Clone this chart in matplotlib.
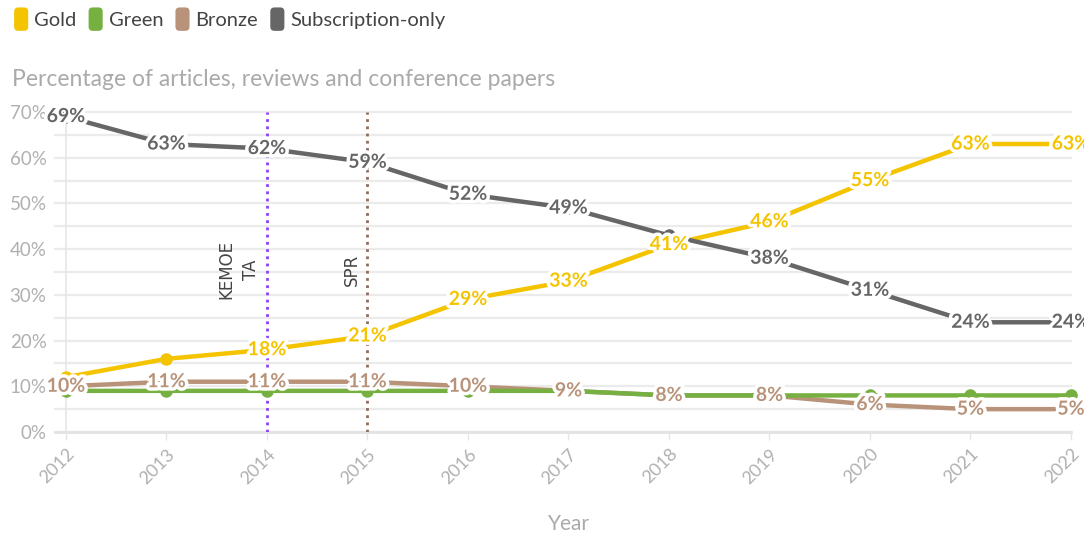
import matplotlib
matplotlib.use('Agg')
import matplotlib.pyplot as plt
import matplotlib.patheffects as pe
from matplotlib.patches import Patch, FancyBboxPatch
from matplotlib.legend_handler import HandlerPatch

plt.rcParams['font.family'] = ['Lato', 'DejaVu Sans']

# ---------------- data ----------------
years = [2012, 2013, 2014, 2015, 2016, 2017, 2018, 2019, 2020, 2021, 2022]
gold = [12, 16, 18, 21, 29, 33, 41, 46, 55, 63, 63]
green = [9, 9, 9, 9, 9, 9, 8, 8, 8, 8, 8]
bronze = [10, 11, 11, 11, 10, 9, 8, 8, 6, 5, 5]
subscription = [69, 63, 62, 59, 52, 49, 43, 38, 31, 24, 24]
series_names = ['Gold', 'Green', 'Bronze', 'Subscription-only']
y_ticks = [0, 10, 20, 30, 40, 50, 60, 70]
event_years = [2014, 2015]
event_labels = ['KEMOE\nTA', 'SPR']

# ---------------- style ----------------
colors = {'Gold': '#f5c400', 'Green': '#76b041', 'Bronze': '#b8937a',
          'Subscription-only': '#666666'}
event_colors = ['#8a3ffc', '#8b6d5c']
# labels hidden (overlap) -> (series, year)
hidden = {('Gold', 2012), ('Gold', 2013), ('Subscription-only', 2018)} | \
         {('Green', y) for y in years}

values = {'Gold': gold, 'Green': green, 'Bronze': bronze,
          'Subscription-only': subscription}

fig = plt.figure(figsize=(10.84, 5.35), dpi=100)
ax = fig.add_axes([66 / 1084, 103 / 535, (1071 - 66) / 1084, 320 / 535])

ax.set_xlim(2012, 2022)
ax.set_ylim(0, 70)

# grid lines every 5%
for v in range(0, 75, 5):
    ax.axhline(v, color='#ebebeb', lw=1.6, zorder=0, xmin=-0.011, clip_on=False)
ax.axhline(0, color='#e3e3e3', lw=2, zorder=0.5, xmin=-0.011, clip_on=False)

for s in ax.spines.values():
    s.set_visible(False)
ax.spines['left'].set_visible(True)
ax.spines['left'].set_color('#e6e6e6')
ax.spines['left'].set_linewidth(1.2)

ax.set_yticks(y_ticks)
ax.set_yticklabels([f'{v}%' for v in y_ticks])
ax.tick_params(axis='y', length=0, pad=14, labelsize=13.5, labelcolor='#b0b0b0')
ax.set_xticks(years)
ax.set_xticklabels([str(y) for y in years], rotation=45, ha='right', va='top',
                   rotation_mode='anchor')
ax.tick_params(axis='x', length=6, width=1, color='#e6e6e6', pad=4,
               labelsize=13, labelcolor='#b0b0b0')
ax.set_xlabel('Year', fontsize=15, color='#aaaaaa', labelpad=20)

# event lines
for yr, lab, c in zip(event_years, event_labels, event_colors):
    ax.axvline(yr, color=c, lw=2, ls=(0, (1, 1.6)), zorder=1)
    ax.text(yr - 0.07, 35.5, lab, rotation=90, ha='right', va='center',
            fontsize=12, color='#444444', family=['DejaVu Sans'],
            linespacing=1.5, multialignment='center')

# lines
order = ['Bronze', 'Green', 'Gold', 'Subscription-only']
for i, name in enumerate(order):
    ax.plot(years, values[name], color=colors[name], lw=3.2, zorder=2 + i,
            marker='o', markersize=8, solid_capstyle='round', clip_on=False)

# labels
for name in order:
    for yr, v in zip(years, values[name]):
        if (name, yr) in hidden:
            continue
        t = ax.text(yr, v, f'{v}%', ha='center', va='center', fontsize=14,
                    fontweight='bold', color=colors[name], zorder=10,
                    clip_on=False)
        t.set_path_effects([pe.withStroke(linewidth=5, foreground='white')])

# title
fig.text(12 / 1084, 1 - 79 / 535, 'Percentage of articles, reviews and conference papers',
         fontsize=16.5, color='#aaaaaa', ha='left', va='center')


# legend with rounded squares
def make_box(legend, orig_handle, xdescent, ydescent, width, height, fontsize):
    return FancyBboxPatch((-xdescent, -ydescent - height * 0.15), width, height * 1.3,
                          boxstyle='round,pad=0,rounding_size=3')


handles = [Patch(facecolor=colors[n], edgecolor='none', label=n) for n in series_names]
fig.legend(handles=handles, loc='upper left', bbox_to_anchor=(-4 / 1084, 1 + 8 / 535),
           ncol=4, frameon=False, fontsize=14.5, handlelength=0.7,
           handleheight=1.0, handletextpad=0.3, columnspacing=0.6,
           labelcolor='#444444',
           handler_map={Patch: HandlerPatch(patch_func=make_box)})

fig.savefig('out.png', dpi=100)
